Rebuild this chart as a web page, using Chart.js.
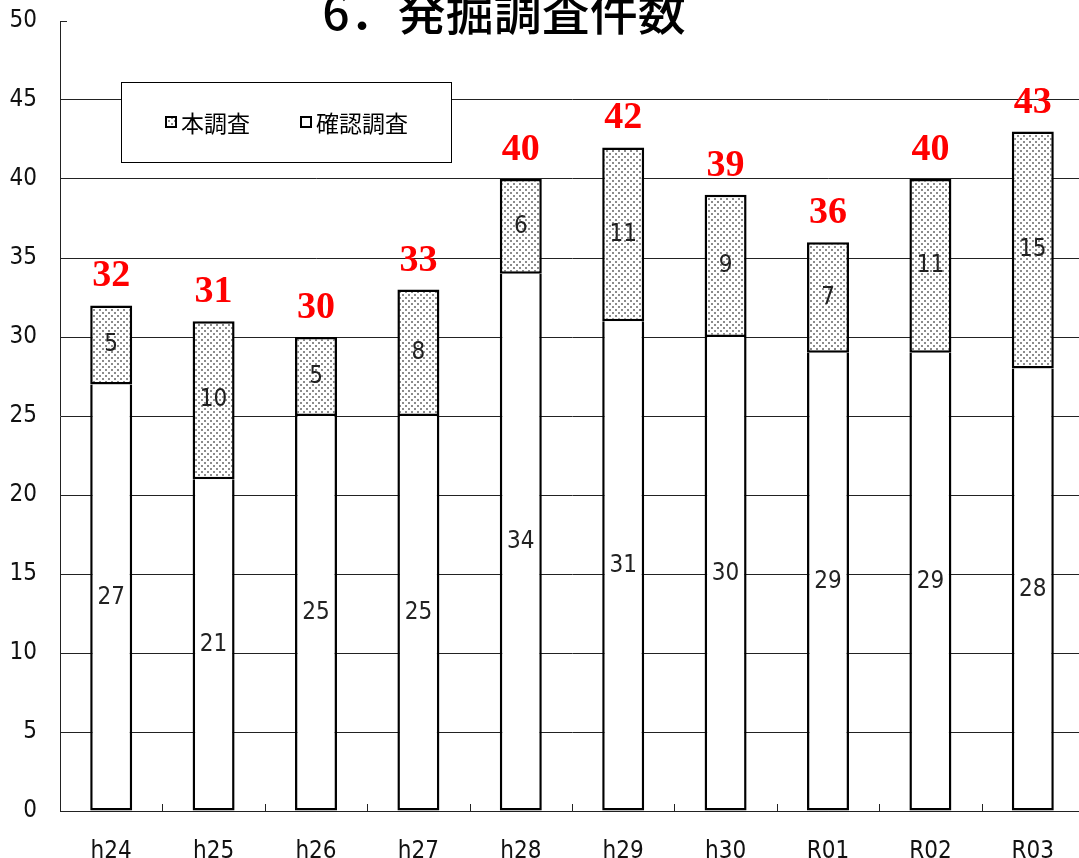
<!DOCTYPE html>
<html>
<head>
<meta charset="utf-8">
<script src="https://cdn.jsdelivr.net/npm/chart.js@4/dist/chart.umd.min.js"></script>
<style>
  html, body { margin: 0; padding: 0; background: #fff; overflow: hidden; }
  #c { display: block; }
</style>
</head>
<body>
<canvas id="c" width="1100" height="858" style="width:1100px;height:858px"></canvas>
<script>
// years on the x-axis
var years = ["h24", "h25", "h26", "h27", "h28", "h29", "h30", "R01", "R02", "R03"];
// 確認調査 (bottom, white) and 本調査 (top, dotted)
var kakunin = [27, 21, 25, 25, 34, 31, 30, 29, 29, 28];
var honchosa = [5, 10, 5, 8, 6, 11, 9, 7, 11, 15];
var yTicks = [0, 5, 10, 15, 20, 25, 30, 35, 40, 45, 50];
var title = "6．発掘調査件数";

var narrow = "'Liberation Sans Narrow', 'DejaVu Sans Condensed', sans-serif";
var jp = "'Noto Sans CJK JP', sans-serif";

// dotted fill like the original
function dots() {
    var c = document.createElement("canvas");
    c.width = 6; c.height = 6;
    var g = c.getContext("2d");
    g.fillStyle = "#fff";
    g.fillRect(0, 0, 6, 6);
    g.fillStyle = "#8c8c8c";
    g.fillRect(0, 0, 2, 2);
    g.fillRect(3, 3, 2, 2);
    return g.createPattern(c, "repeat");
}
var dotFill = dots();

var extras = {
    id: "extras",
    afterDatasetsDraw: function (chart) {
        var ctx = chart.ctx;
        var xs = chart.scales.x, ys = chart.scales.y;
        var area = chart.chartArea;
        ctx.save();

        // numbers inside the segments
        ctx.font = "24px " + narrow;
        ctx.fillStyle = "#222";
        ctx.textAlign = "center";
        ctx.textBaseline = "middle";
        chart.data.datasets.forEach(function (ds, di) {
            chart.getDatasetMeta(di).data.forEach(function (bar, i) {
                ctx.fillText(ds.data[i], bar.x, (bar.y + bar.base) / 2);
            });
        });

        // red totals above the bars
        ctx.font = "bold 38px 'Liberation Serif', serif";
        ctx.fillStyle = "#ff0000";
        ctx.textBaseline = "alphabetic";
        chart.getDatasetMeta(1).data.forEach(function (bar, i) {
            ctx.fillText(kakunin[i] + honchosa[i], bar.x, bar.y - 19);
        });

        // small ticks between categories, pointing up
        ctx.strokeStyle = "#222";
        ctx.lineWidth = 1;
        var step = xs.getPixelForValue(1) - xs.getPixelForValue(0);
        for (var i = 0; i < years.length - 1; i++) {
            var tx = Math.round(xs.getPixelForValue(i) + step / 2) + 0.5;
            ctx.beginPath();
            ctx.moveTo(tx, area.bottom);
            ctx.lineTo(tx, area.bottom - 7);
            ctx.stroke();
        }
        // tick at the top value
        var ty = Math.round(ys.getPixelForValue(50)) + 0.5;
        ctx.beginPath();
        ctx.moveTo(area.left, ty);
        ctx.lineTo(area.left + 7, ty);
        ctx.stroke();

        // title
        ctx.font = "500 48px " + jp;
        ctx.fillStyle = "#000";
        ctx.textAlign = "center";
        ctx.textBaseline = "middle";
        ctx.fillText(title, 504, 12);

        // legend box
        ctx.fillStyle = "#fff";
        ctx.fillRect(121, 82, 330, 80);
        ctx.strokeStyle = "#000";
        ctx.lineWidth = 1;
        ctx.strokeRect(121.5, 82.5, 330, 80);
        var items = [
            { label: chart.data.datasets[1].label, fill: dotFill, x: 165 },
            { label: chart.data.datasets[0].label, fill: "#fff", x: 300 }
        ];
        ctx.font = "23px " + jp;
        ctx.textAlign = "left";
        items.forEach(function (it) {
            ctx.fillStyle = it.fill;
            ctx.fillRect(it.x, 116, 12, 12);
            ctx.lineWidth = 2;
            ctx.strokeStyle = "#000";
            ctx.strokeRect(it.x + 1, 117, 10, 10);
            ctx.fillStyle = "#000";
            ctx.fillText(it.label, it.x + 16, 123);
        });
        ctx.restore();
    }
};

function noPad(s) {
    s.paddingTop = 0;
    s.paddingBottom = 0;
    s.paddingLeft = 0;
    s.paddingRight = 0;
}

var graph = new Chart(document.getElementById("c"), {
    type: "bar",
    data: {
        labels: years,
        datasets: [
            {
                label: "確認調査",
                data: kakunin,
                backgroundColor: "#fff",
                borderColor: "#000",
                borderWidth: 2.5,
                borderSkipped: "top"
            },
            {
                label: "本調査",
                data: honchosa,
                backgroundColor: dotFill,
                borderColor: "#000",
                borderWidth: 2.5,
                borderSkipped: false
            }
        ]
    },
    options: {
        responsive: false,
        animation: false,
        categoryPercentage: 1,
        barPercentage: 0.41,
        layout: { padding: { top: 21, right: 16, left: 0, bottom: 0 } },
        plugins: {
            legend: { display: false },
            tooltip: { enabled: false }
        },
        scales: {
            x: {
                stacked: true,
                grid: { display: false },
                border: { color: "#222", width: 1 },
                ticks: { color: "#111", font: { family: narrow, size: 24 }, padding: 18 },
                afterFit: function (s) { s.height = 47; noPad(s); }
            },
            y: {
                stacked: true,
                min: 0,
                max: 50,
                afterBuildTicks: function (s) {
                    s.ticks = yTicks.map(function (v) { return { value: v }; });
                },
                grid: {
                    drawTicks: false,
                    color: function (c) {
                        return c.tick && c.tick.value === 50 ? "rgba(0,0,0,0)" : "#222";
                    }
                },
                border: { color: "#222", width: 1 },
                ticks: { color: "#111", font: { family: narrow, size: 24 }, padding: 23 },
                afterFit: function (s) { s.width = 60; noPad(s); }
            }
        }
    },
    plugins: [extras]
});
</script>
</body>
</html>
